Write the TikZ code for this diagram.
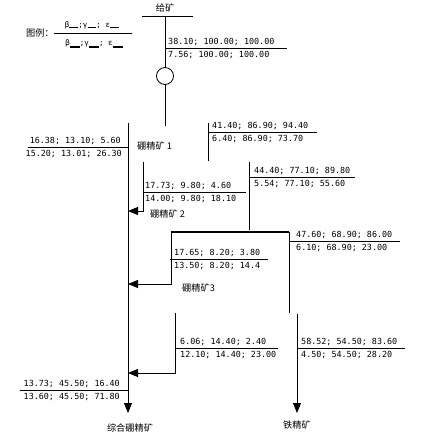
\documentclass[tikz,border=0pt]{standalone}
\usepackage{fontspec}
\newfontfamily\numfont{DejaVu Sans Mono}
\newfontfamily\cnfont{Noto Sans CJK SC}
\usetikzlibrary{arrows.meta}

\begin{document}
\begin{tikzpicture}[line cap=butt,line join=miter,>={Triangle[length=10pt,width=8pt]},x=1pt,y=1pt,
  flow/.style={line width=0.8pt},
  num/.style={font=\numfont\fontsize{8.4}{10}\selectfont,inner sep=0pt},
  small/.style={font=\numfont\fontsize{7.5}{9}\selectfont,inner sep=0pt},
  cn/.style={font=\cnfont\fontsize{9.2}{11}\selectfont,inner sep=0pt}]
\useasboundingbox (0,0) rectangle (424,-437);

% legend
\node[cn,anchor=west] (key) at (26,-33) {图例：};
\draw[flow] (54,-33) -- (132,-33);
\node[small] (keyup) at (92,-25) {β\rule{9pt}{0.6pt};γ\rule{9pt}{0.6pt}; ε\rule{9pt}{0.6pt}};
\node[small] (keylo) at (94,-44) {β\rule[-2.5pt]{10pt}{2.5pt};γ\rule[-2.5pt]{10pt}{2.5pt}; ε\rule[-2.5pt]{10pt}{2.5pt}};

% feed and flotation cell
\node[cn] (feed) at (165,-8) {给矿};
\coordinate (fl) at (142,-16);
\coordinate (fr) at (193,-16);
\coordinate (f0) at (165,-16);
\draw[flow] (fl) -- (fr);
\node[circle,draw,flow,minimum size=17pt,inner sep=0pt] (cell) at (165,-76) {};
\draw[flow] (f0) -- (cell);
\coordinate (c1) at (165,-126);
\draw[flow] (cell) -- (c1);
\draw[flow] (165,-48) -- (287,-48);
\node[num,anchor=base west] (d0a) at (168,-44) {38.10; 100.00; 100.00};
\node[num,anchor=base west] (d0b) at (168,-57) {7.56; 100.00; 100.00};

% main line to bulk boron concentrate
\coordinate (m0) at (128,-123);
\coordinate (m1) at (128,-413);
\draw[flow,->] (m0) -- (m1);
\node[cn,anchor=west] (bc1) at (137,-146) {硼精矿 1};
\draw[flow] (28,-147) -- (128,-147);
\node[num,anchor=base east] (d1a) at (121,-143) {16.38; 13.10; 5.60};
\node[num,anchor=base east] (d1b) at (122,-156) {15.20; 13.01; 26.30};

% tailings 1
\coordinate (t1a) at (208,-123);
\coordinate (t1b) at (208,-161);
\draw[flow] (t1a) -- (t1b);
\draw[flow] (208,-132) -- (317,-132);
\node[num,anchor=base west] (d2a) at (212,-128) {41.40; 86.90; 94.40};
\node[num,anchor=base west] (d2b) at (212,-141) {6.40; 86.90; 73.70};

% boron concentrate 2
\coordinate (b2a) at (143,-162);
\coordinate (b2b) at (143,-211);
\coordinate (b2c) at (128,-211);
\draw[flow,->] (b2a) -- (b2b) -- (b2c);
\node[cn,anchor=west] (bc2) at (150,-214) {硼精矿 2};
\draw[flow] (143,-192) -- (246,-192);
\node[num,anchor=base west] (d3a) at (145,-188) {17.73; 9.80; 4.60};
\node[num,anchor=base west] (d3b) at (145,-201) {14.00; 9.80; 18.10};

% tailings 2
\coordinate (t2a) at (249,-162);
\coordinate (t2b) at (249,-230);
\draw[flow] (t2a) -- (t2b);
\draw[flow] (249,-177) -- (355,-177);
\node[num,anchor=base west] (d4a) at (254,-173) {44.40; 77.10; 89.80};
\node[num,anchor=base west] (d4b) at (254,-186) {5.54; 77.10; 55.60};

% magnetic split
\coordinate (s0) at (171,-232);
\coordinate (s1) at (289,-232);
\draw[line width=2pt] (s0) -- (s1);

% boron concentrate 3
\coordinate (b3a) at (171,-284);
\coordinate (b3b) at (128,-284);
\draw[flow,->] (s0) -- (b3a) -- (b3b);
\node[cn,anchor=west] (bc3) at (182,-288) {硼精矿3};
\draw[flow] (170,-259) -- (268,-259);
\node[num,anchor=base west] (d6a) at (174,-255) {17.65; 8.20; 3.80};
\node[num,anchor=base west] (d6b) at (174,-268) {13.50; 8.20; 14.4};

% magnetic product
\coordinate (s2) at (289,-313);
\draw[flow] (s1) -- (s2);
\draw[flow] (289,-241) -- (400,-241);
\node[num,anchor=base west] (d5a) at (296,-237) {47.60; 68.90; 86.00};
\node[num,anchor=base west] (d5b) at (296,-250) {6.10; 68.90; 23.00};

% boron concentrate 4
\coordinate (b4a) at (175,-313);
\coordinate (b4b) at (175,-373);
\coordinate (b4c) at (128,-373);
\draw[flow,->] (b4a) -- (b4b) -- (b4c);
\draw[flow] (175,-348) -- (278,-348);
\node[num,anchor=base west] (d7a) at (180,-344) {6.06; 14.40; 2.40};
\node[num,anchor=base west] (d7b) at (180,-357) {12.10; 14.40; 23.00};

% iron concentrate
\coordinate (fe0) at (297,-314);
\coordinate (fe1) at (297,-413);
\draw[flow,->] (fe0) -- (fe1);
\draw[flow] (297,-348) -- (405,-348);
\node[num,anchor=base west] (d8a) at (301,-344) {58.52; 54.50; 83.60};
\node[num,anchor=base west] (d8b) at (301,-357) {4.50; 54.50; 28.20};
\node[cn] (fe) at (297,-425) {铁精矿};

% bulk boron concentrate
\draw[flow] (20,-390) -- (128,-390);
\node[num,anchor=base east] (d9a) at (120,-386) {13.73; 45.50; 16.40};
\node[num,anchor=base east] (d9b) at (120,-399) {13.60; 45.50; 71.80};
\node[cn] (bulk) at (130,-428) {综合硼精矿};
\end{tikzpicture}
\end{document}
